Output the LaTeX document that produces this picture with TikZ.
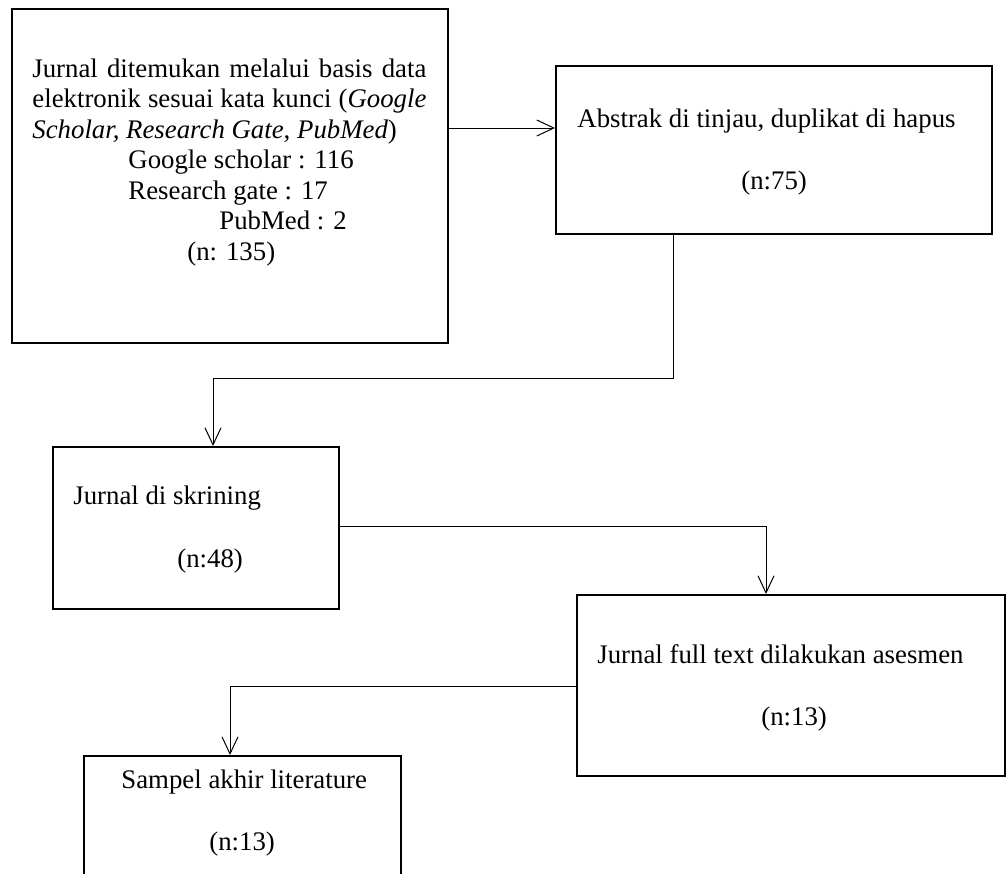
\documentclass[tikz,border=0pt]{standalone}
\usepackage{fontspec}
\setmainfont{Liberation Serif}
\usetikzlibrary{arrows.meta}

\begin{document}
\begin{tikzpicture}[
  x=0.5pt, y=-0.5pt,
  box/.style = {draw,line width=1pt,rectangle,anchor=north west,inner sep=0pt},
  txt/.style = {anchor=base west,inner sep=0pt,font=\fontsize{13.4}{15.25}\selectfont},
  flow/.style = {line width=0.5pt,-{Straight Barb[length=8.5pt,width=8pt]}}
  ]
  \clip (0,0) rectangle (1006,873);
  %
  \node[box,minimum width=218pt,minimum height=167pt] (found) at (11,8) {};
  \node[box,minimum width=218pt,minimum height=84pt] (abstrak) at (555,65) {};
  \node[box,minimum width=143pt,minimum height=81pt] (skrining) at (52,446) {};
  \node[box,minimum width=214pt,minimum height=90.5pt] (fulltext) at (576,594) {};
  \node[box,minimum width=158.5pt,minimum height=80pt] (sampel) at (83,755) {};
  %
  \node[txt] (foundtxt) at (32,77) {\parbox[t]{197pt}{\baselineskip=15.25pt
    \makebox[197pt][s]{Jurnal ditemukan melalui basis data}\\
    \makebox[197pt][s]{elektronik sesuai kata kunci (\textit{Google}}\\
    \textit{Scholar, Research Gate, PubMed})\\
    \hspace*{48pt}Google scholar : 116\\
    \hspace*{48pt}Research gate : 17\\
    \hspace*{93.5pt}PubMed : 2\\
    \hspace*{77.5pt}(n: 135)}};
  \node[txt] (abstraktxt) at (577,127) {Abstrak di tinjau, duplikat di hapus};
  \node[txt] (abstrakn) at (741,189) {(n:75)};
  \node[txt] (skriningtxt) at (73,504) {Jurnal di skrining};
  \node[txt] (skriningn) at (177,567) {(n:48)};
  \node[txt] (fulltexttxt) at (597,663) {Jurnal full text dilakukan asesmen};
  \node[txt] (fulltextn) at (761,725) {(n:13)};
  \node[txt] (sampeltxt) at (121,788) {Sampel akhir literature};
  \node[txt] (sampeln) at (209,850) {(n:13)};
  %
  \coordinate (kE) at (447,128);
  \coordinate (kA) at (673,378);
  \coordinate (kB) at (213,378);
  \coordinate (kC) at (766,526);
  \coordinate (kD) at (230,686);
  \draw[flow] (found.east |- kE) -- (abstrak.west |- kE);
  \draw[flow] (abstrak.south -| kA) -- (kA) -- (kB) -- (skrining.north -| kB);
  \draw[flow] (skrining.east |- kC) -- (kC) -- (fulltext.north -| kC);
  \draw[flow] (fulltext.west |- kD) -- (kD) -- (sampel.north -| kD);
\end{tikzpicture}
\end{document}
